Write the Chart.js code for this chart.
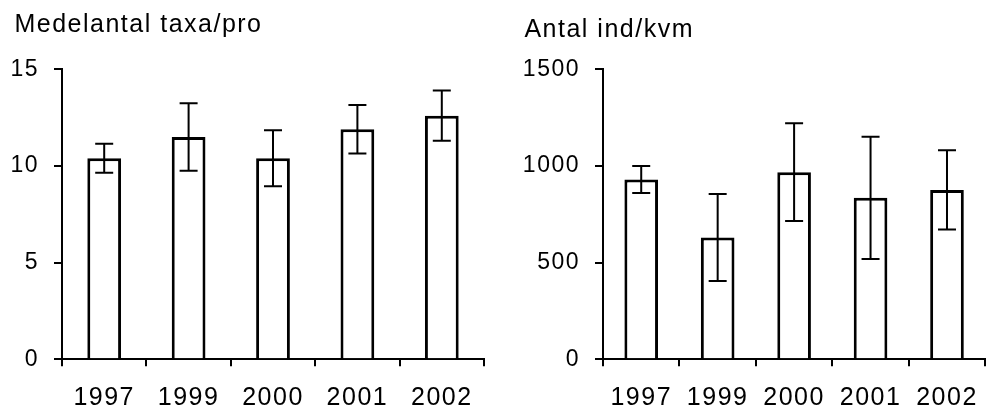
<!DOCTYPE html>
<html lang="sv">
<head>
<meta charset="UTF-8">
<title>Medelantal taxa / Antal ind</title>
<script src="https://cdn.jsdelivr.net/npm/chart.js/dist/chart.umd.min.js"></script>
<style>
  body { margin: 0; background: #fff; }
  .box { position: absolute; top: 0; height: 408px; }
  #left { left: 0; width: 497px; }
  #right { left: 497px; width: 498px; }
</style>
</head>
<body>
<div class="box" id="left"><canvas id="taxaChart"></canvas></div>
<div class="box" id="right"><canvas id="indChart"></canvas></div>
<script>
// data
const years = ['1997', '1999', '2000', '2001', '2002'];
const taxaMean = [10.4, 11.5, 10.4, 11.9, 12.6];
const taxaErr = [0.75, 1.75, 1.45, 1.25, 1.3];
const indMean = [930, 630, 968, 835, 876];
const indErr = [70, 225, 253, 316, 205];
const taxaTicks = [0, 5, 10, 15];
const indTicks = [0, 500, 1000, 1500];

// canvas letter spacing, the original text is drawn a bit wide
const spacing = {
  id: 'spacing',
  beforeLayout(chart) { chart.ctx.letterSpacing = '1.5px'; },
  beforeDraw(chart) { chart.ctx.letterSpacing = '1.5px'; }
};

// error bars drawn from the y scale
const errorBars = {
  id: 'errorBars',
  afterDatasetsDraw(chart, args, opts) {
    const ctx = chart.ctx;
    const yScale = chart.scales.y;
    const meta = chart.getDatasetMeta(0);
    const vals = chart.data.datasets[0].data;
    ctx.save();
    ctx.strokeStyle = '#000';
    ctx.lineWidth = 2;
    meta.data.forEach((bar, i) => {
      const hi = yScale.getPixelForValue(vals[i] + opts.err[i]);
      const lo = yScale.getPixelForValue(vals[i] - opts.err[i]);
      ctx.beginPath();
      ctx.moveTo(bar.x, hi);
      ctx.lineTo(bar.x, lo);
      ctx.moveTo(bar.x - 9, hi);
      ctx.lineTo(bar.x + 9, hi);
      ctx.moveTo(bar.x - 9, lo);
      ctx.lineTo(bar.x + 9, lo);
      ctx.stroke();
    });
    ctx.restore();
  }
};

function makeChart(id, title, means, errs, ticks, o) {
  const family = '"Liberation Sans", Arial, sans-serif';
  const titleSize = 25;
  return new Chart(document.getElementById(id), {
    type: 'bar',
    data: {
      labels: years,
      datasets: [{
        data: means,
        backgroundColor: '#fff',
        borderColor: '#000',
        borderWidth: 3,
        categoryPercentage: 1,
        barPercentage: o.barPct
      }]
    },
    options: {
      responsive: true,
      maintainAspectRatio: false,
      animation: false,
      layout: { padding: { left: o.padLeft, right: o.padRight, top: 0, bottom: 0 } },
      plugins: {
        legend: { display: false },
        tooltip: { enabled: false },
        title: {
          display: true,
          text: ' ' + title,
          align: 'start',
          color: '#000',
          font: { family: family, size: titleSize, weight: 'normal', lineHeight: 1.2 },
          padding: { top: o.titleTop, bottom: 69.3 - o.titleTop - titleSize * 1.2 }
        },
        errorBars: { err: errs }
      },
      scales: {
        x: {
          grid: { drawOnChartArea: false, color: '#000', lineWidth: 2, tickLength: 7 },
          border: { color: '#000', width: 2 },
          ticks: { color: '#000', font: { family: family, size: 25 }, padding: 17, maxRotation: 0 },
          afterFit(scale) { scale.height = 48.7; }
        },
        y: {
          min: ticks[0],
          max: ticks[ticks.length - 1],
          grid: { drawOnChartArea: false, color: '#000', lineWidth: 2, tickLength: 8 },
          border: { color: '#000', width: 2 },
          ticks: {
            color: '#000',
            font: { family: family, size: 23 },
            padding: 15,
            stepSize: ticks[1] - ticks[0],
            callback: v => String(v)
          },
          afterFit(scale) { scale.width = o.yWidth; }
        }
      }
    },
    plugins: [spacing, errorBars]
  });
}

makeChart('taxaChart', 'Medelantal taxa/pro', taxaMean, taxaErr, taxaTicks,
  { padLeft: 6, padRight: 13, yWidth: 56, barPct: 0.4, titleTop: 10.3 });
makeChart('indChart', 'Antal ind/kvm', indMean, indErr, indTicks,
  { padLeft: 19, padRight: 2, yWidth: 87, barPct: 0.44, titleTop: 15.6 });
</script>
</body>
</html>
